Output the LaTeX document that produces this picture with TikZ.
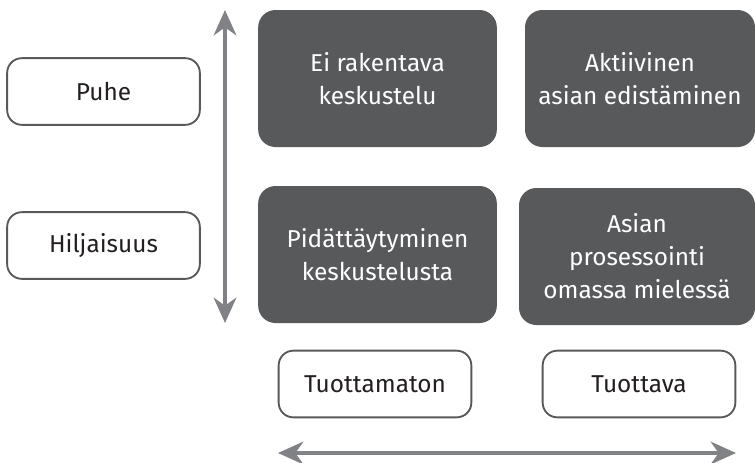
\documentclass[tikz,border=0pt]{standalone}
\usepackage{fontspec}
\setmainfont{Fira Sans}
\usepackage{xcolor}
\usepackage{tikz}
\usetikzlibrary{arrows.meta}
\definecolor{darkbox}{HTML}{58595B}
\definecolor{axisgray}{HTML}{808285}
\definecolor{textblack}{HTML}{231F20}
\tikzset{
  every picture/.style = {
    x=0.75pt,
    y=-0.75pt,
    font=\fontsize{18.3}{24.8}\selectfont
  }
}
\tikzset{
  labelbox/.style={
    draw = darkbox,
    line width=1.4pt,
    rounded corners=11pt,
    fill=white,
    text=textblack,
    align=center,
    inner sep=0pt,
    minimum width=144.5pt,
    minimum height=50pt
  },
  quadrant/.style={
    fill=darkbox,
    rounded corners=13pt,
    text=white,
    align=center,
    inner sep=0pt,
    minimum height=102.75pt
  },
  axis/.style={
    draw=axisgray,
    line width=3pt,
    {Stealth[length=19pt,width=17pt,inset=6pt]}-{Stealth[length=19pt,width=17pt,inset=6pt]}
  }
}

\begin{document}
\begin{tikzpicture}
        \useasboundingbox (0,0) rectangle (755,462);
        % rows
        \node[labelbox] (puhe) at (103.5,91.5) {Puhe};
        \node[labelbox] (hiljaisuus) at (103.5,245.5) {Hiljaisuus};
        % the four quadrants
        \node[quadrant, minimum width=179pt] (eirakentava) at (377.5,78.5) {Ei rakentava\\keskustelu};
        \node[quadrant, minimum width=172.5pt] (aktiivinen) at (640,78.5) {Aktiivinen\\asian edistäminen};
        \node[quadrant, minimum width=179pt] (pidattaytyminen) at (377.5,254.5) {Pidättäytyminen\\keskustelusta};
        \node[quadrant, minimum width=177pt] (prosessointi) at (637,256.5) {Asian\\prosessointi\\omassa mielessä};
        % columns
        \node[labelbox] (tuottamaton) at (375,384) {Tuottamaton};
        \node[labelbox] (tuottava) at (639,384) {Tuottava};
        % axes
        \coordinate (ylos) at (225,10);
        \coordinate (alas) at (225,323);
        \coordinate (vasen) at (278,453);
        \coordinate (oikea) at (736,453);
        \draw[axis] (ylos)--(alas);
        \draw[axis] (vasen)--(oikea);
    \end{tikzpicture}
\end{document}
